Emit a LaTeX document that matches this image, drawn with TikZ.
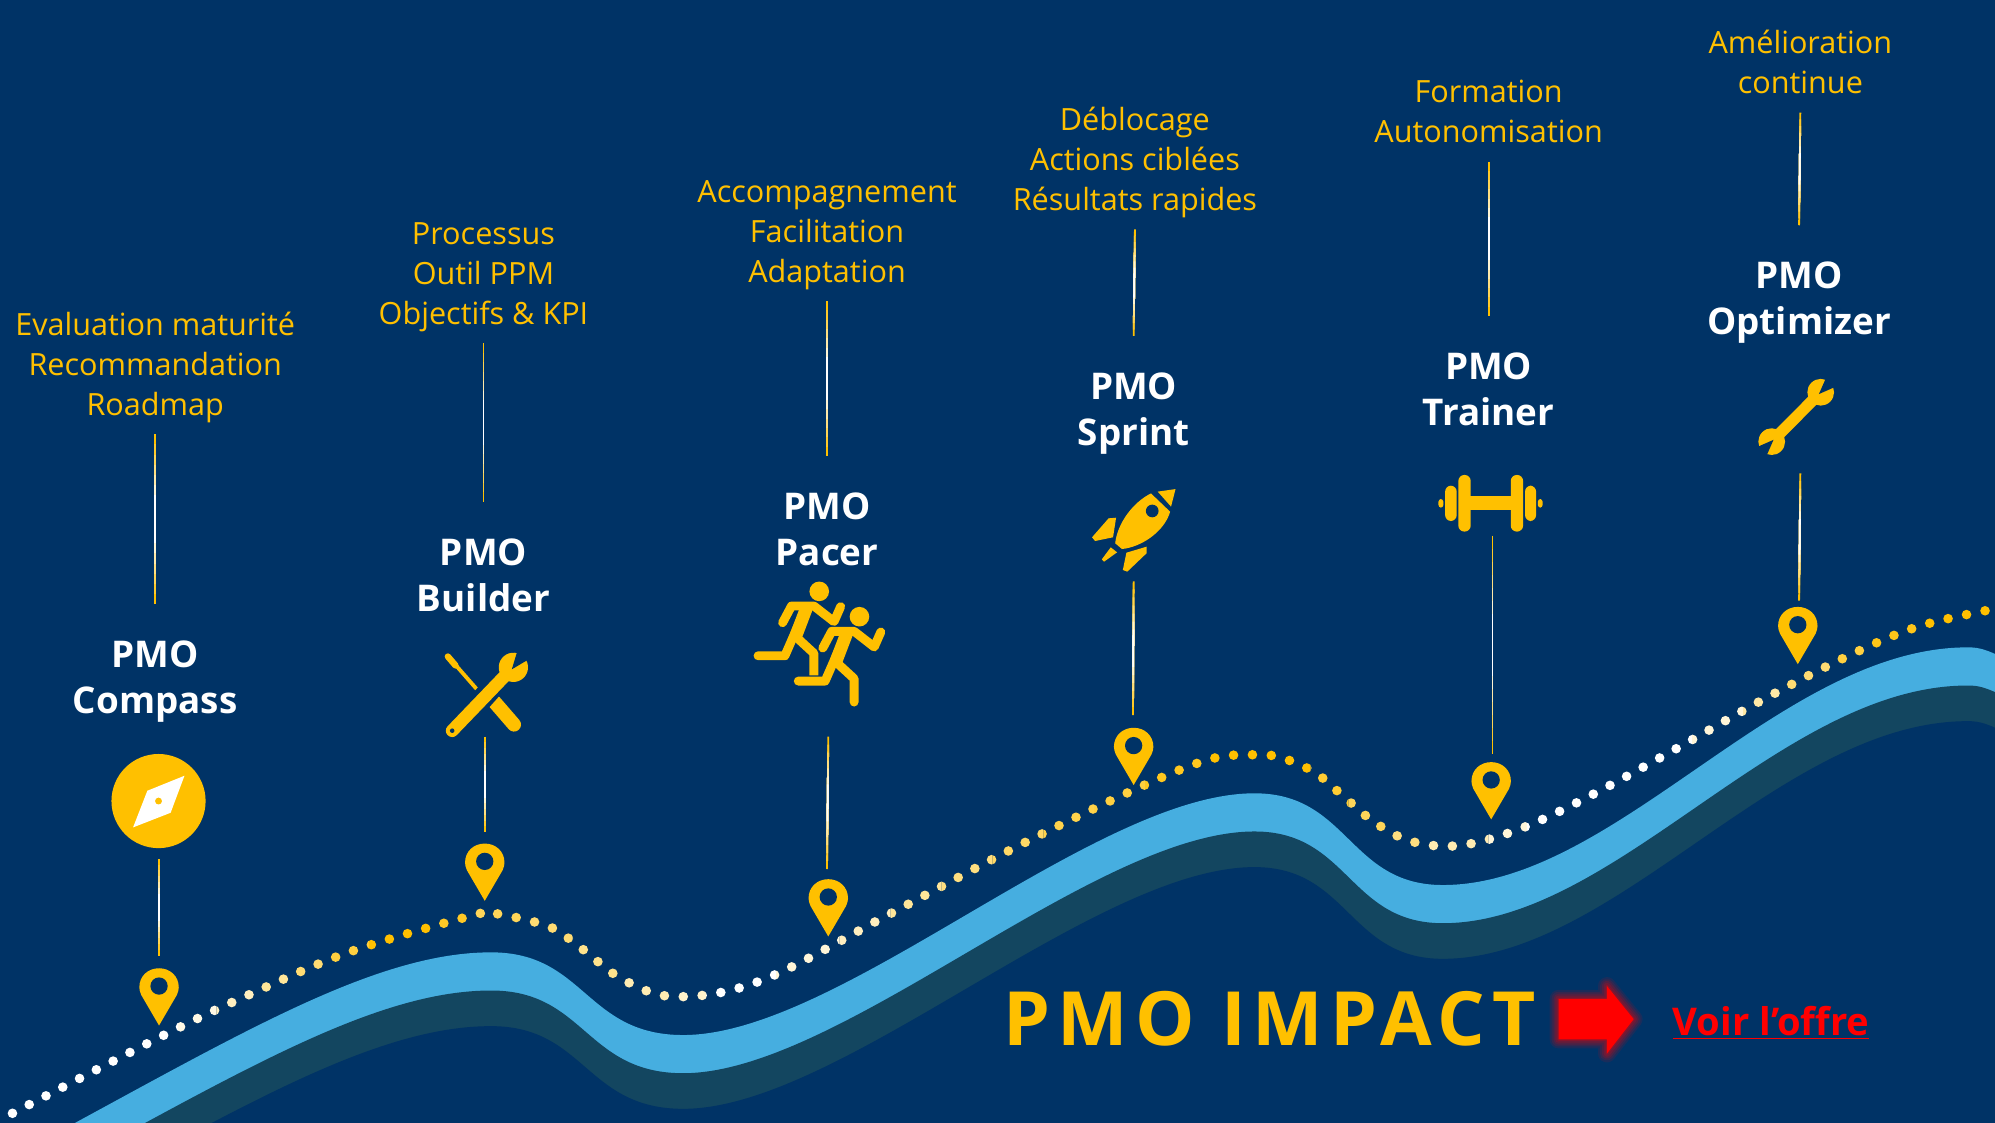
\documentclass[tikz,border=0pt]{standalone}
\usepackage{fontspec}
\setmainfont{Open Sans}
\usetikzlibrary{calc}
\definecolor{navy}{HTML}{003366}
\definecolor{gold}{HTML}{FFC000}
\definecolor{skyband}{HTML}{46AEE0}
\definecolor{tealband}{HTML}{134660}
\def\u{0.63616pt}
\tikzset{
	desc/.style={text=gold,align=center,inner sep=0pt,outer ysep=3.4pt,font=\fontsize{15.3}{20}\selectfont},
	title/.style={text=white,align=center,inner sep=0pt,outer ysep=18.4pt,font=\fontsize{18.4}{23}\selectfont\bfseries},
	limbgold/.style={draw=gold,line width=7*\u,line cap=round,line join=round},
	limbhalo/.style={draw=navy,line width=9*\u,line cap=round,line join=round},
	roaddots/.style={line width=4.8pt,line cap=round,dash pattern=on 0pt off 9.45pt},
	pics/mappin/.style={code={
		\fill[gold] (0,0) -- (-14,-24) .. controls (-15,-26.5) and (-15.5,-28) .. (-15.5,-30)
			.. controls (-15.5,-39) and (-8.5,-45) .. (0,-45)
			.. controls (8.5,-45) and (15.5,-39) .. (15.5,-30)
			.. controls (15.5,-28) and (15,-26.5) .. (14,-24) -- cycle;
		\fill[navy] (0,-31) circle (6.8);
	}},
	pics/runner/.style={code={
		\draw[#1] (-28.8,24.6) -- (-21.8,11.5) -- (-4.2,11.5) -- (11.6,23.8) -- (16.8,12);
		\draw[#1] (-48.1,50.6) -- (-27,50.6) -- (-11,14);
		\draw[#1] (-18,36) -- (-4.2,48.7) -- (-4.2,67.1);
		\draw[#1,line width=10*\u,line cap=butt] (-10,13) -- (-18,34);
	}},
	pics/spanner/.style={code={
		\fill[gold] (0,0) circle (#1);
		\fill[navy] (-2,0) -- (16,-7) -- (16,7) -- cycle;
	}},
}
\newcommand{\fadeline}[2]{
	\foreach \k in {0,...,6}{
		\pgfmathsetmacro\f{\k*0.06}
		\pgfmathsetmacro\g{1-\f}
		\pgfmathsetmacro\m{\k*100/6}
		\draw[line width=0.9pt,white!\m!gold] ($(#1)!\f!(#2)$) -- ($(#1)!\g!(#2)$);
	}
}
\newcommand{\ridge}[2]{
	\fill[#1,shift={(0,#2)}] (-20,927) -- (60,882) .. controls (200,806) and (300,748.5) .. (386,748.5)
		.. controls (460,748.5) and (460,813.5) .. (537,813.5)
		.. controls (660,813.5) and (860,623.5) .. (986,623.5)
		.. controls (1060,623.5) and (1060,695.6) .. (1134,695.6)
		.. controls (1270,695.6) and (1400,508.8) .. (1546.5,508.8)
		.. controls (1556,508.8) and (1562,510) .. (1590,525) -- (1590,1000) -- (-20,1000) -- cycle;
}
\begin{document}
\begin{tikzpicture}[x=\u,y=-\u]
	\useasboundingbox (0,0) rectangle (1568,882);
	\clip (-5,-5) rectangle (1573,887);
	\fill[navy] (-5,-5) rectangle (1573,887);
	% bands
	\ridge{skyband}{0}
	\ridge{tealband}{30}
	\ridge{navy}{58}
	% dotted road, one colour per stretch
	\foreach \xa/\xb/\m in {0/140/100,140/170/90,170/200/75,200/230/60,230/260/45,260/290/25,290/340/0,340/370/15,370/410/35,410/450/45,450/490/55,490/530/70,530/555/80,555/610/100,610/660/85,660/700/75,700/740/60,740/780/50,780/820/40,820/860/30,860/900/25,900/950/12,950/1030/0,1030/1060/20,1060/1090/35,1090/1120/50,1120/1170/70,1170/1200/85,1200/1330/100,1330/1370/85,1370/1400/65,1400/1440/45,1440/1470/25,1470/1510/10,1510/1570/0}{
		\begin{scope}
			\clip (\xa,0) rectangle (\xb,882);
			\draw[roaddots,white!\m!gold] plot[smooth,tension=0.6] coordinates {(9.8,875) (128,814) (194,782.6) (275.4,748) (374.4,718.7) (389,717.9) (431.6,728.3) (456,744.6) (491.2,770.8) (533.3,783.4) (600,770) (700,718) (800,665) (893,620) (950,597) (985,593.2) (1006.8,595.5) (1033.7,607.3) (1056.2,626.2) (1079,645.3) (1104.6,659.7) (1132.9,665) (1162,661.8) (1204,647.7) (1257,621.7) (1321.8,586) (1386,549.7) (1451.4,516.1) (1506,493) (1562.7,479.5) (1580,477)};
		\end{scope}
	}
	% descriptions
	\node[desc] (descCompass) at (122,290.5) {Evaluation maturité\\Recommandation\\Roadmap\strut};
	\node[desc] (descBuilder) at (380,219.5) {Processus\\Outil PPM\\Objectifs \& KPI\strut};
	\node[desc] (descPacer) at (650,186.5) {Accompagnement\\Facilitation\\Adaptation\strut};
	\node[desc] (descSprint) at (892,129.5) {Déblocage\\Actions ciblées\\Résultats rapides\strut};
	\node[desc] (descTrainer) at (1170,92.5) {Formation\\Autonomisation\strut};
	\node[desc] (descOptimizer) at (1415,53.5) {Amélioration\\continue\strut};
	% titles
	\node[title] (titleCompass) at (122,536) {PMO\\Compass};
	\node[title] (titleBuilder) at (380,452) {PMO\\Builder};
	\node[title] (titlePacer) at (650,416) {PMO\\Pacer};
	\node[title] (titleSprint) at (891,325) {PMO\\Sprint};
	\node[title] (titleTrainer) at (1170,306) {PMO\\Trainer};
	\node[title] (titleOptimizer) at (1414,238) {PMO\\Optimizer};
	% icon and pin ends
	\coordinate (iconCompass) at (125,675);
	\coordinate (iconBuilder) at (381,579);
	\coordinate (iconPacer) at (651,579);
	\coordinate (iconSprint) at (891,457);
	\coordinate (iconTrainer) at (1173,421);
	\coordinate (iconOptimizer) at (1415,372);
	\coordinate (topCompass) at (125,751);
	\coordinate (topBuilder) at (381,654);
	\coordinate (topPacer) at (650,683);
	\coordinate (topSprint) at (890.5,562);
	\coordinate (topTrainer) at (1173,593);
	\coordinate (topOptimizer) at (1414,472);
	\foreach \n in {Compass,Builder,Pacer,Sprint,Trainer,Optimizer}{
		\fadeline{desc\n.south}{title\n.north}
		\fadeline{icon\n}{top\n}
	}
	% pins
	\pic at (125,806) {mappin};
	\pic at (381,708) {mappin};
	\pic at (651,736) {mappin};
	\pic at (891,617) {mappin};
	\pic at (1172,644) {mappin};
	\pic at (1413,522) {mappin};
	% compass
	\fill[gold] (124.6,629.6) circle (37);
	\fill[white] (145,609.7) -- (115.8,621.5) -- (104.6,650.3) -- (134.1,638.8) -- cycle;
	\fill[gold] (124.6,629.6) circle (2.7);
	% tools
	\draw[gold,line width=3*\u] (354,518) -- (375,542);
	\draw[gold,line width=5*\u,line cap=round] (352,516) -- (358,523);
	\draw[gold,line width=11*\u,line cap=round] (404,569.5) -- (388,551);
	\draw[navy,line width=17*\u] (365,565) -- (398,528);
	\draw[gold,line width=10*\u,line cap=round] (355.4,574.3) -- (398,530);
	\pic at (403.5,524.5) [rotate=52] {spanner=11.5};
	\fill[navy] (355.4,574.3) circle (1.8);
	% runners
	\fill[gold] (643.9,464.8) circle (7.7);
	\pic at (643.9,464.8) {runner=limbgold};
	\pic at (675.5,484.7) {runner=limbhalo};
	\fill[gold] (675.5,484.7) circle (7.7);
	\pic at (675.5,484.7) {runner=limbgold};
	% rocket
	\fill[gold] (904.6,387.8) .. controls (890,395) and (878,412) .. (876.5,427) -- (881.8,431.5) .. controls (897,430) and (915,418) .. (919.7,402.2) -- cycle;
	\fill[navy] (905.6,401.6) circle (5);
	\fill[gold] (909.9,386.4) -- (923.9,384.4) -- (920.4,398.2) -- cycle;
	\fill[gold] (877.2,406.9) -- (871.3,407.4) -- (858.3,422.3) -- (860.7,425.2) -- (874.8,422.3) -- cycle;
	\fill[gold] (901.1,429.7) -- (885.3,434.4) -- (882.5,448) -- (886,449.3) -- (901.1,434.9) -- cycle;
	\fill[gold] (873,430.2) -- (866,439.6) -- (867.7,441.5) -- (878,434.1) -- cycle;
	% dumbbell
	\fill[gold] (1155,389.8) rectangle (1188,400.8);
	\fill[gold,rounded corners=3pt] (1146.2,373.3) rectangle (1155.9,417.8);
	\fill[gold,rounded corners=3pt] (1187.4,373.3) rectangle (1197.1,417.8);
	\fill[gold,rounded corners=3pt] (1135.8,381.7) rectangle (1144.9,409.5);
	\fill[gold,rounded corners=3pt] (1198.6,381.7) rectangle (1207.3,409.5);
	\fill[gold,rounded corners=1.5pt] (1130.5,392.2) rectangle (1134.5,399);
	\fill[gold,rounded corners=1.5pt] (1208.6,392.2) rectangle (1212.5,399);
	% wrench
	\draw[gold,line width=9*\u] (1392.5,347.1) -- (1431,308.3);
	\pic at (1431,308.3) [rotate=45] {spanner=10.5};
	\pic at (1392.5,347.1) [rotate=225] {spanner=10.5};
	% offer
	\node[text=gold,inner sep=0pt,font=\fontsize{37.4}{40}\selectfont\bfseries\addfontfeature{LetterSpace=9.4}] (impact) at (998,801) {PMO IMPACT};
	\foreach \w/\o in {14/0.10,11/0.12,8/0.14,5/0.16,2/0.2}
		\draw[red,line width=\w*\u,opacity=\o,line join=round] (1225,785) -- (1263,785) -- (1263,775) -- (1284,801) -- (1263,828) -- (1263,817) -- (1225,817) -- cycle;
	\fill[red] (1225,785) -- (1263,785) -- (1263,775) -- (1284,801) -- (1263,828) -- (1263,817) -- (1225,817) -- cycle;
	\node[text=red,inner sep=0pt,font=\fontsize{19.1}{22}\selectfont\bfseries] (offer) at (1392,804) {\underline{Voir l’offre}};
\end{tikzpicture}
\end{document}
